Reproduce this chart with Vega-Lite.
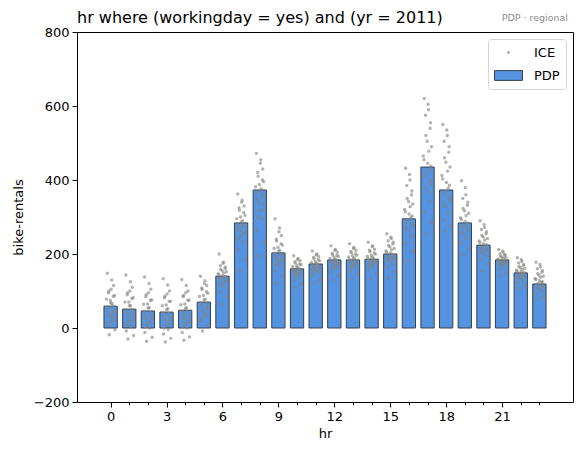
{
"$schema":"https://vega.github.io/schema/vega-lite/v6.json",
"autosize":"none",
"width":496,"height":370,
"padding":{"left":77,"top":32,"right":10,"bottom":53},
"background":"white",
"config":{"font":"DejaVu Sans","view":{"stroke":"black","strokeWidth":1},
"axis":{"domainColor":"black","tickColor":"black","labelColor":"black","titleColor":"black","labelFont":"DejaVu Sans","titleFont":"DejaVu Sans","labelFontSize":13,"titleFontSize":13,"titleFontWeight":"normal","grid":false}},
"title":{"text":"hr where (workingday = yes) and (yr = 2011)","anchor":"start","frame":"group","fontSize":16,"fontWeight":"normal","font":"DejaVu Sans","color":"black","offset":7,"dy":20},
"resolve":{"axis":{"x":"independent"}},
"datasets":{
"pdp":[{"hr":0,"v":59},{"hr":1,"v":51},{"hr":2,"v":46},{"hr":3,"v":43},{"hr":4,"v":48},{"hr":5,"v":70},{"hr":6,"v":140},{"hr":7,"v":284},{"hr":8,"v":373},{"hr":9,"v":203},{"hr":10,"v":160},{"hr":11,"v":173},{"hr":12,"v":184},{"hr":13,"v":184},{"hr":14,"v":186},{"hr":15,"v":200},{"hr":16,"v":295},{"hr":17,"v":435},{"hr":18,"v":373},{"hr":19,"v":284},{"hr":20,"v":224},{"hr":21,"v":184},{"hr":22,"v":149},{"hr":23,"v":119}],
"ice":[
{"x":-0.18,"v":148},{"x":0.06,"v":130},{"x":0.16,"v":115},{"x":-0.09,"v":100},{"x":0.21,"v":88},{"x":-0.23,"v":78},{"x":0.01,"v":68},{"x":0.11,"v":60},{"x":-0.13,"v":52},{"x":0.19,"v":42},{"x":-0.04,"v":32},{"x":0.09,"v":20},{"x":-0.16,"v":8},{"x":0.23,"v":-5},{"x":-0.07,"v":-18},
{"x":0.82,"v":143},{"x":1.06,"v":125},{"x":1.16,"v":110},{"x":0.91,"v":95},{"x":1.21,"v":82},{"x":0.77,"v":70},{"x":1.01,"v":60},{"x":1.11,"v":50},{"x":0.87,"v":40},{"x":1.19,"v":30},{"x":0.96,"v":18},{"x":1.09,"v":5},{"x":0.84,"v":-8},{"x":1.23,"v":-20},{"x":0.93,"v":-30},
{"x":1.82,"v":138},{"x":2.06,"v":120},{"x":2.16,"v":105},{"x":1.91,"v":90},{"x":2.21,"v":76},{"x":1.77,"v":64},{"x":2.01,"v":54},{"x":2.11,"v":44},{"x":1.87,"v":34},{"x":2.19,"v":24},{"x":1.96,"v":12},{"x":2.09,"v":0},{"x":1.84,"v":-12},{"x":2.23,"v":-25},{"x":1.93,"v":-36},
{"x":2.82,"v":133},{"x":3.06,"v":116},{"x":3.16,"v":100},{"x":2.91,"v":86},{"x":3.21,"v":72},{"x":2.77,"v":60},{"x":3.01,"v":50},{"x":3.11,"v":40},{"x":2.87,"v":30},{"x":3.19,"v":20},{"x":2.96,"v":8},{"x":3.09,"v":-4},{"x":2.84,"v":-16},{"x":3.23,"v":-28},{"x":2.93,"v":-38},
{"x":3.82,"v":131},{"x":4.06,"v":115},{"x":4.16,"v":100},{"x":3.91,"v":88},{"x":4.21,"v":75},{"x":3.77,"v":63},{"x":4.01,"v":53},{"x":4.11,"v":44},{"x":3.87,"v":34},{"x":4.19,"v":24},{"x":3.96,"v":12},{"x":4.09,"v":0},{"x":3.84,"v":-12},{"x":4.23,"v":-24},{"x":3.93,"v":-33},
{"x":4.82,"v":140},{"x":5.06,"v":128},{"x":5.16,"v":115},{"x":4.91,"v":104},{"x":5.21,"v":94},{"x":4.77,"v":85},{"x":5.01,"v":76},{"x":5.11,"v":68},{"x":4.87,"v":60},{"x":5.19,"v":52},{"x":4.96,"v":43},{"x":5.09,"v":32},{"x":4.84,"v":20},{"x":5.23,"v":8},{"x":4.93,"v":-8},
{"x":5.82,"v":200},{"x":6.06,"v":178},{"x":6.16,"v":165},{"x":5.91,"v":158},{"x":6.21,"v":152},{"x":5.77,"v":147},{"x":6.01,"v":142},{"x":6.11,"v":138},{"x":5.87,"v":134},{"x":6.19,"v":128},{"x":5.96,"v":120},{"x":6.09,"v":110},{"x":5.84,"v":98},{"x":6.23,"v":85},{"x":5.93,"v":65},
{"x":6.82,"v":362},{"x":7.06,"v":345},{"x":7.16,"v":330},{"x":6.91,"v":318},{"x":7.21,"v":305},{"x":6.77,"v":295},{"x":7.01,"v":286},{"x":7.11,"v":278},{"x":6.87,"v":270},{"x":7.19,"v":260},{"x":6.96,"v":248},{"x":7.09,"v":232},{"x":6.84,"v":212},{"x":7.23,"v":185},{"x":6.93,"v":155},
{"x":7.82,"v":472},{"x":8.06,"v":455},{"x":8.16,"v":430},{"x":7.91,"v":410},{"x":8.21,"v":395},{"x":7.77,"v":382},{"x":8.01,"v":372},{"x":8.11,"v":362},{"x":7.87,"v":350},{"x":8.19,"v":335},{"x":7.96,"v":318},{"x":8.09,"v":295},{"x":7.84,"v":265},{"x":8.23,"v":230},{"x":7.93,"v":195},
{"x":8.82,"v":295},{"x":9.06,"v":270},{"x":9.16,"v":250},{"x":8.91,"v":235},{"x":9.21,"v":224},{"x":8.77,"v":215},{"x":9.01,"v":207},{"x":9.11,"v":200},{"x":8.87,"v":193},{"x":9.19,"v":186},{"x":8.96,"v":178},{"x":9.09,"v":168},{"x":8.84,"v":155},{"x":9.23,"v":140},{"x":8.93,"v":122},
{"x":9.82,"v":195},{"x":10.06,"v":188},{"x":10.16,"v":182},{"x":9.91,"v":176},{"x":10.21,"v":171},{"x":9.77,"v":166},{"x":10.01,"v":162},{"x":10.11,"v":158},{"x":9.87,"v":154},{"x":10.19,"v":150},{"x":9.96,"v":145},{"x":10.09,"v":138},{"x":9.84,"v":130},{"x":10.23,"v":120},{"x":9.93,"v":110},
{"x":10.82,"v":208},{"x":11.06,"v":200},{"x":11.16,"v":193},{"x":10.91,"v":187},{"x":11.21,"v":182},{"x":10.77,"v":177},{"x":11.01,"v":173},{"x":11.11,"v":169},{"x":10.87,"v":165},{"x":11.19,"v":161},{"x":10.96,"v":156},{"x":11.09,"v":150},{"x":10.84,"v":142},{"x":11.23,"v":132},{"x":10.93,"v":122},
{"x":11.82,"v":222},{"x":12.06,"v":212},{"x":12.16,"v":205},{"x":11.91,"v":198},{"x":12.21,"v":193},{"x":11.77,"v":188},{"x":12.01,"v":184},{"x":12.11,"v":180},{"x":11.87,"v":176},{"x":12.19,"v":172},{"x":11.96,"v":167},{"x":12.09,"v":160},{"x":11.84,"v":152},{"x":12.23,"v":142},{"x":11.93,"v":130},
{"x":12.82,"v":228},{"x":13.06,"v":218},{"x":13.16,"v":210},{"x":12.91,"v":203},{"x":13.21,"v":197},{"x":12.77,"v":192},{"x":13.01,"v":187},{"x":13.11,"v":183},{"x":12.87,"v":179},{"x":13.19,"v":175},{"x":12.96,"v":170},{"x":13.09,"v":163},{"x":12.84,"v":155},{"x":13.23,"v":145},{"x":12.93,"v":132},
{"x":13.82,"v":232},{"x":14.06,"v":222},{"x":14.16,"v":213},{"x":13.91,"v":206},{"x":14.21,"v":200},{"x":13.77,"v":194},{"x":14.01,"v":189},{"x":14.11,"v":185},{"x":13.87,"v":181},{"x":14.19,"v":177},{"x":13.96,"v":172},{"x":14.09,"v":166},{"x":13.84,"v":158},{"x":14.23,"v":148},{"x":13.93,"v":133},
{"x":14.82,"v":255},{"x":15.06,"v":242},{"x":15.16,"v":232},{"x":14.91,"v":223},{"x":15.21,"v":215},{"x":14.77,"v":208},{"x":15.01,"v":202},{"x":15.11,"v":197},{"x":14.87,"v":192},{"x":15.19,"v":187},{"x":14.96,"v":181},{"x":15.09,"v":174},{"x":14.84,"v":165},{"x":15.23,"v":152},{"x":14.93,"v":136},
{"x":15.82,"v":432},{"x":16.06,"v":400},{"x":16.16,"v":370},{"x":15.91,"v":350},{"x":16.21,"v":335},{"x":15.77,"v":320},{"x":16.01,"v":308},{"x":16.11,"v":298},{"x":15.87,"v":288},{"x":16.19,"v":276},{"x":15.96,"v":262},{"x":16.09,"v":248},{"x":15.84,"v":230},{"x":16.23,"v":208},{"x":15.93,"v":182},
{"x":16.82,"v":620},{"x":17.06,"v":590},{"x":17.16,"v":555},{"x":16.91,"v":520},{"x":17.21,"v":490},{"x":16.77,"v":465},{"x":17.01,"v":445},{"x":17.11,"v":428},{"x":16.87,"v":410},{"x":17.19,"v":390},{"x":16.96,"v":368},{"x":17.09,"v":342},{"x":16.84,"v":315},{"x":17.23,"v":285},{"x":16.93,"v":255},
{"x":17.82,"v":550},{"x":18.06,"v":520},{"x":18.16,"v":490},{"x":17.91,"v":460},{"x":18.21,"v":435},{"x":17.77,"v":412},{"x":18.01,"v":393},{"x":18.11,"v":378},{"x":17.87,"v":362},{"x":18.19,"v":345},{"x":17.96,"v":328},{"x":18.09,"v":310},{"x":17.84,"v":292},{"x":18.23,"v":275},{"x":17.93,"v":262},
{"x":18.82,"v":398},{"x":19.06,"v":360},{"x":19.16,"v":340},{"x":18.91,"v":323},{"x":19.21,"v":310},{"x":18.77,"v":298},{"x":19.01,"v":288},{"x":19.11,"v":280},{"x":18.87,"v":272},{"x":19.19,"v":263},{"x":18.96,"v":253},{"x":19.09,"v":242},{"x":18.84,"v":230},{"x":19.23,"v":215},{"x":18.93,"v":200},
{"x":19.82,"v":290},{"x":20.06,"v":272},{"x":20.16,"v":260},{"x":19.91,"v":250},{"x":20.21,"v":242},{"x":19.77,"v":235},{"x":20.01,"v":228},{"x":20.11,"v":222},{"x":19.87,"v":216},{"x":20.19,"v":210},{"x":19.96,"v":203},{"x":20.09,"v":195},{"x":19.84,"v":185},{"x":20.23,"v":172},{"x":19.93,"v":155},
{"x":20.82,"v":212},{"x":21.06,"v":204},{"x":21.16,"v":198},{"x":20.91,"v":194},{"x":21.21,"v":190},{"x":20.77,"v":186},{"x":21.01,"v":183},{"x":21.11,"v":180},{"x":20.87,"v":177},{"x":21.19,"v":174},{"x":20.96,"v":170},{"x":21.09,"v":165},{"x":20.84,"v":159},{"x":21.23,"v":151},{"x":20.93,"v":142},
{"x":21.82,"v":190},{"x":22.06,"v":180},{"x":22.16,"v":172},{"x":21.91,"v":166},{"x":22.21,"v":161},{"x":21.77,"v":156},{"x":22.01,"v":152},{"x":22.11,"v":148},{"x":21.87,"v":144},{"x":22.19,"v":140},{"x":21.96,"v":135},{"x":22.09,"v":129},{"x":21.84,"v":122},{"x":22.23,"v":115},{"x":21.93,"v":108},
{"x":22.82,"v":178},{"x":23.06,"v":165},{"x":23.16,"v":155},{"x":22.91,"v":147},{"x":23.21,"v":140},{"x":22.77,"v":134},{"x":23.01,"v":128},{"x":23.11,"v":123},{"x":22.87,"v":118},{"x":23.19,"v":113},{"x":22.96,"v":107},{"x":23.09,"v":100},{"x":22.84,"v":92},{"x":23.23,"v":85},{"x":22.93,"v":78},
{"x":0.03,"v":105},{"x":-0.11,"v":95},{"x":0.14,"v":85},{"x":-0.02,"v":75},{"x":0.07,"v":66},{"x":-0.19,"v":57},{"x":0.17,"v":48},{"x":-0.06,"v":38},{"x":0.12,"v":28},{"x":-0.14,"v":15},
{"x":1.03,"v":100},{"x":0.89,"v":90},{"x":1.14,"v":80},{"x":0.98,"v":70},{"x":1.07,"v":60},{"x":0.81,"v":50},{"x":1.17,"v":40},{"x":0.94,"v":30},{"x":1.12,"v":20},{"x":0.86,"v":8},
{"x":2.03,"v":95},{"x":1.89,"v":85},{"x":2.14,"v":75},{"x":1.98,"v":65},{"x":2.07,"v":55},{"x":1.81,"v":45},{"x":2.17,"v":35},{"x":1.94,"v":25},{"x":2.12,"v":15},{"x":1.86,"v":3},
{"x":3.03,"v":92},{"x":2.89,"v":82},{"x":3.14,"v":72},{"x":2.98,"v":62},{"x":3.07,"v":52},{"x":2.81,"v":42},{"x":3.17,"v":32},{"x":2.94,"v":22},{"x":3.12,"v":12},{"x":2.86,"v":0},
{"x":4.03,"v":95},{"x":3.89,"v":85},{"x":4.14,"v":75},{"x":3.98,"v":65},{"x":4.07,"v":55},{"x":3.81,"v":45},{"x":4.17,"v":35},{"x":3.94,"v":25},{"x":4.12,"v":15},{"x":3.86,"v":3},
{"x":5.03,"v":120},{"x":4.89,"v":108},{"x":5.14,"v":98},{"x":4.98,"v":88},{"x":5.07,"v":78},{"x":4.81,"v":68},{"x":5.17,"v":58},{"x":4.94,"v":48},{"x":5.12,"v":38},{"x":4.86,"v":25},
{"x":6.03,"v":175},{"x":5.89,"v":168},{"x":6.14,"v":160},{"x":5.98,"v":154},{"x":6.07,"v":149},{"x":5.81,"v":144},{"x":6.17,"v":139},{"x":5.94,"v":133},{"x":6.12,"v":125},{"x":5.86,"v":115},
{"x":7.03,"v":340},{"x":6.89,"v":325},{"x":7.14,"v":312},{"x":6.98,"v":300},{"x":7.07,"v":290},{"x":6.81,"v":282},{"x":7.17,"v":274},{"x":6.94,"v":265},{"x":7.12,"v":255},{"x":6.86,"v":240},
{"x":8.03,"v":445},{"x":7.89,"v":420},{"x":8.14,"v":400},{"x":7.98,"v":388},{"x":8.07,"v":376},{"x":7.81,"v":366},{"x":8.17,"v":355},{"x":7.94,"v":340},{"x":8.12,"v":320},{"x":7.86,"v":300},
{"x":9.03,"v":260},{"x":8.89,"v":240},{"x":9.14,"v":228},{"x":8.98,"v":218},{"x":9.07,"v":210},{"x":8.81,"v":203},{"x":9.17,"v":196},{"x":8.94,"v":188},{"x":9.12,"v":180},{"x":8.86,"v":170},
{"x":10.03,"v":185},{"x":9.89,"v":179},{"x":10.14,"v":173},{"x":9.98,"v":168},{"x":10.07,"v":163},{"x":9.81,"v":159},{"x":10.17,"v":155},{"x":9.94,"v":151},{"x":10.12,"v":146},{"x":9.86,"v":140},
{"x":11.03,"v":198},{"x":10.89,"v":191},{"x":11.14,"v":185},{"x":10.98,"v":180},{"x":11.07,"v":175},{"x":10.81,"v":171},{"x":11.17,"v":167},{"x":10.94,"v":163},{"x":11.12,"v":158},{"x":10.86,"v":152},
{"x":12.03,"v":210},{"x":11.89,"v":202},{"x":12.14,"v":196},{"x":11.98,"v":191},{"x":12.07,"v":186},{"x":11.81,"v":182},{"x":12.17,"v":178},{"x":11.94,"v":174},{"x":12.12,"v":169},{"x":11.86,"v":162},
{"x":13.03,"v":215},{"x":12.89,"v":207},{"x":13.14,"v":200},{"x":12.98,"v":195},{"x":13.07,"v":190},{"x":12.81,"v":185},{"x":13.17,"v":181},{"x":12.94,"v":177},{"x":13.12,"v":172},{"x":12.86,"v":165},
{"x":14.03,"v":220},{"x":13.89,"v":210},{"x":14.14,"v":203},{"x":13.98,"v":197},{"x":14.07,"v":192},{"x":13.81,"v":187},{"x":14.17,"v":183},{"x":13.94,"v":179},{"x":14.12,"v":174},{"x":13.86,"v":168},
{"x":15.03,"v":245},{"x":14.89,"v":236},{"x":15.14,"v":227},{"x":14.98,"v":219},{"x":15.07,"v":211},{"x":14.81,"v":205},{"x":15.17,"v":199},{"x":14.94,"v":194},{"x":15.12,"v":189},{"x":14.86,"v":183},
{"x":16.03,"v":415},{"x":15.89,"v":385},{"x":16.14,"v":360},{"x":15.98,"v":342},{"x":16.07,"v":328},{"x":15.81,"v":314},{"x":16.17,"v":303},{"x":15.94,"v":293},{"x":16.12,"v":282},{"x":15.86,"v":270},
{"x":17.03,"v":605},{"x":16.89,"v":575},{"x":17.14,"v":540},{"x":16.98,"v":505},{"x":17.07,"v":478},{"x":16.81,"v":455},{"x":17.17,"v":437},{"x":16.94,"v":420},{"x":17.12,"v":400},{"x":16.86,"v":380},
{"x":18.03,"v":535},{"x":17.89,"v":505},{"x":18.14,"v":475},{"x":17.98,"v":448},{"x":18.07,"v":424},{"x":17.81,"v":403},{"x":18.17,"v":386},{"x":17.94,"v":370},{"x":18.12,"v":354},{"x":17.86,"v":337},
{"x":19.03,"v":380},{"x":18.89,"v":350},{"x":19.14,"v":332},{"x":18.98,"v":317},{"x":19.07,"v":304},{"x":18.81,"v":293},{"x":19.17,"v":284},{"x":18.94,"v":276},{"x":19.12,"v":268},{"x":18.86,"v":258},
{"x":20.03,"v":280},{"x":19.89,"v":266},{"x":20.14,"v":255},{"x":19.98,"v":246},{"x":20.07,"v":238},{"x":19.81,"v":231},{"x":20.17,"v":225},{"x":19.94,"v":219},{"x":20.12,"v":213},{"x":19.86,"v":206},
{"x":21.03,"v":208},{"x":20.89,"v":201},{"x":21.14,"v":196},{"x":20.98,"v":192},{"x":21.07,"v":188},{"x":20.81,"v":184},{"x":21.17,"v":181},{"x":20.94,"v":178},{"x":21.12,"v":175},{"x":20.86,"v":172},
{"x":22.03,"v":185},{"x":21.89,"v":176},{"x":22.14,"v":169},{"x":21.98,"v":163},{"x":22.07,"v":158},{"x":21.81,"v":154},{"x":22.17,"v":150},{"x":21.94,"v":146},{"x":22.12,"v":142},{"x":21.86,"v":137},
{"x":23.03,"v":172},{"x":22.89,"v":160},{"x":23.14,"v":151},{"x":22.98,"v":143},{"x":23.07,"v":137},{"x":22.81,"v":131},{"x":23.17,"v":125},{"x":22.94,"v":120},{"x":23.12,"v":115},{"x":22.86,"v":110}
]},
"layer":[
{"data":{"name":"pdp"},
 "mark":{"type":"bar","width":13.3,"stroke":"#34404f","strokeWidth":1},
 "encoding":{
  "x":{"field":"hr","type":"quantitative","scale":{"domain":[-1.535,24.535],"nice":false,"zero":false},
   "axis":{"title":"hr","orient":"bottom","values":[0,3,6,9,12,15,18,21],"tickSize":5,"labelPadding":3,"titlePadding":4,"domain":false,"labelFlush":false,"labelOverlap":false}},
  "y":{"field":"v","type":"quantitative","scale":{"domain":[-200,800],"nice":false},
   "axis":{"title":"bike-rentals","values":[-200,0,200,400,600,800],"tickSize":5,"labelPadding":3,"titlePadding":8,"domain":false}},
  "color":{"datum":"PDP","type":"nominal","scale":{"domain":["ICE","PDP"],"range":["#a8a8a4","#5592e0"]},
   "legend":{"title":null,"orient":"top-right","offset":7,"labelFontSize":13,"labelFont":"DejaVu Sans","padding":6,"strokeColor":"#d5d5d5","fillColor":"white","cornerRadius":3,"rowPadding":8,"labelOffset":25,"symbolStrokeWidth":1,
    "symbolType":{"expr":"datum.value == 'ICE' ? 'M0.8,0A0.2,0.2 0 1,1 1.2,0A0.2,0.2 0 1,1 0.8,0Z' : 'M-1,-0.7H3V0.7H-1Z'"},
    "symbolSize":196,
    "symbolStrokeColor":{"expr":"datum.value == 'ICE' ? 'transparent' : '#34404f'"}}}
 }},
{"data":{"name":"ice"},
 "mark":{"type":"circle","size":12,"opacity":0.62,"color":"#85857f"},
 "encoding":{
  "x":{"field":"x","type":"quantitative",
   "axis":{"title":null,"orient":"bottom","values":[0,1,2,3,4,5,6,7,8,9,10,11,12,13,14,15,16,17,18,19,20,21,22,23],"labels":false,"tickSize":2.8,"domain":false}},
  "y":{"field":"v","type":"quantitative"}}},
{"data":{"values":[{"t":"PDP · regional"}]},
 "mark":{"type":"text","align":"right","baseline":"bottom","dy":-9,"fontSize":9.5,"color":"#8c8c8c","font":"DejaVu Sans"},
 "encoding":{"x":{"datum":24.535,"type":"quantitative","axis":null},"y":{"datum":800,"type":"quantitative"},"text":{"field":"t"}}}
]
}
